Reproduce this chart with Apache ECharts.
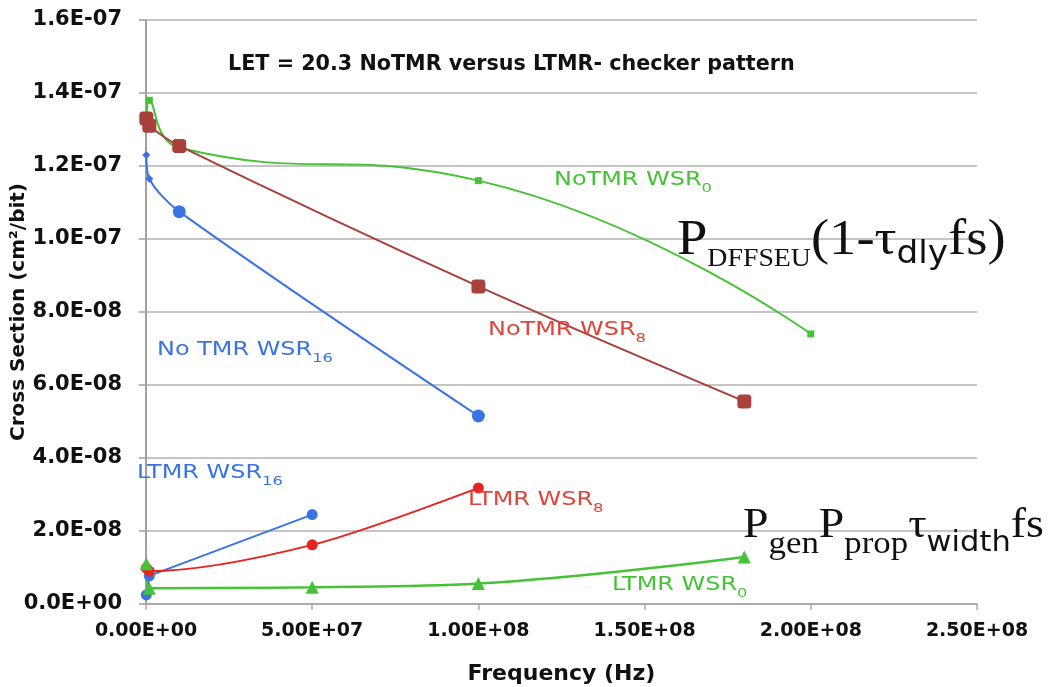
<!DOCTYPE html>
<html>
<head>
<meta charset="utf-8">
<script src="https://cdn.jsdelivr.net/npm/echarts@6/dist/echarts.min.js"></script>
<style>html,body{margin:0;padding:0;background:#fff}#c{width:1049px;height:687px}</style>
</head>
<body>
<div id="c"></div>
<script>
// ---- data (frequency in Hz, cross section in cm^2/bit) ----
const xTicks = [0, 5e7, 1e8, 1.5e8, 2e8, 2.5e8];
const yTicks = [0, 2e-8, 4e-8, 6e-8, 8e-8, 1e-7, 1.2e-7, 1.4e-7, 1.6e-7];
const noTMR_WSR0  = [[1e5, 1.31e-7], [1e6, 1.38e-7], [1e7, 1.25e-7], [1e8, 1.16e-7], [2e8, 7.4e-8]];
const noTMR_WSR8  = [[1e5, 1.33e-7], [1e6, 1.31e-7], [1e7, 1.255e-7], [1e8, 8.7e-8], [1.8e8, 5.55e-8]];
const noTMR_WSR16 = [[1e5, 1.23e-7], [1e6, 1.165e-7], [1e7, 1.075e-7], [1e8, 5.15e-8]];
const LTMR_WSR16  = [[1e5, 2.5e-9], [1e6, 7.7e-9], [5e7, 2.45e-8]];
const LTMR_WSR8   = [[1e5, 9.8e-9], [1e6, 9.0e-9], [5e7, 1.62e-8], [1e8, 3.18e-8]];
const LTMR_WSR0   = [[1e5, 1.1e-8], [1e6, 4.3e-9], [5e7, 4.6e-9], [1e8, 5.6e-9], [1.8e8, 1.29e-8]];
const titleText = 'LET = 20.3 NoTMR versus LTMR- checker pattern';

const GREEN = '#46C236', BROWN = '#A8403B', BLUE = '#3A74E3', RED = '#E8231F', LRED = '#E0443A';

function expFmt(v, d) {
  const s = Number(v).toExponential(d);
  const [m, e] = s.split('e');
  const sign = e[0] === '-' ? '-' : '+';
  const digits = e.replace(/[+-]/, '').padStart(2, '0');
  return m + 'E' + sign + digits;
}

const chart = echarts.init(document.getElementById('c'), null, {renderer: 'canvas'});
const axisFont = {fontFamily: 'DejaVu Sans', fontWeight: 'bold', color: '#111'};

function lbl(x, y, color, main, sub) {
  return {
    type: 'text', x: x, y: y, scaleX: 1.26, z: 100,
    style: {
      text: '{a|' + main + '}{b|' + sub + '}',
      verticalAlign: 'middle', align: 'left',
      rich: {
        a: {fontFamily: 'DejaVu Sans', fontSize: 19, fill: color, height: 26, verticalAlign: 'bottom'},
        b: {fontFamily: 'DejaVu Sans', fontSize: 13, fill: color, height: 8, verticalAlign: 'bottom'}
      }
    }
  };
}

const option = {
  animation: false,
  backgroundColor: '#fff',
  title: {
    text: titleText, left: 223, top: 49,
    textStyle: {fontFamily: 'DejaVu Sans', fontWeight: 'bold', fontSize: 20.7, color: '#111'}
  },
  grid: {left: 146, right: 72, top: 20, bottom: 83, containLabel: false, outerBoundsMode: 'none'},
  xAxis: {
    type: 'value', min: 0, max: 2.5e8, interval: 5e7,
    name: 'Frequency (Hz)', nameLocation: 'middle', nameGap: 59, nameMoveOverlap: false,
    nameTextStyle: Object.assign({fontSize: 22}, axisFont),
    axisLine: {lineStyle: {color: '#aaaaaa', width: 2}},
    axisTick: {show: true, length: 6, lineStyle: {color: '#aaaaaa', width: 1.5}},
    axisLabel: Object.assign({fontSize: 19, margin: 18, formatter: v => expFmt(v, 2)}, axisFont),
    splitLine: {show: false}
  },
  yAxis: {
    type: 'value', min: 0, max: 1.6e-7, interval: 2e-8,
    name: 'Cross Section (cm²/bit)', nameLocation: 'middle', nameGap: 117, nameRotate: 90,
    nameMoveOverlap: false,
    nameTextStyle: Object.assign({fontSize: 20}, axisFont),
    axisLine: {show: true, lineStyle: {color: '#a0a0a0', width: 2}},
    axisTick: {show: true, length: 7, lineStyle: {color: '#a0a0a0', width: 1.5}},
    axisLabel: Object.assign({fontSize: 21, margin: 24, formatter: v => expFmt(v, 1)}, axisFont),
    splitLine: {show: true, lineStyle: {color: '#b2b2b2', width: 1.6}}
  },
  series: [
    {name: 'NoTMR WSR0', type: 'line', data: noTMR_WSR0, smooth: 0.5, symbol: 'rect', symbolSize: 7,
     itemStyle: {color: GREEN}, lineStyle: {color: GREEN, width: 2}},
    {name: 'NoTMR WSR8', type: 'line', data: noTMR_WSR8, smooth: 0.3, symbol: 'roundRect', symbolSize: 14,
     itemStyle: {color: BROWN}, lineStyle: {color: BROWN, width: 2}},
    {name: 'No TMR WSR16', type: 'line', data: noTMR_WSR16, smooth: 0.3,
     symbol: v => v[0] < 5e6 ? 'diamond' : 'circle', symbolSize: v => v[0] < 5e6 ? 8 : 13,
     itemStyle: {color: BLUE}, lineStyle: {color: BLUE, width: 2}},
    {name: 'LTMR WSR16', type: 'line', data: LTMR_WSR16, smooth: false, symbol: 'circle', symbolSize: 11,
     itemStyle: {color: BLUE}, lineStyle: {color: BLUE, width: 2}},
    {name: 'LTMR WSR8', type: 'line', data: LTMR_WSR8, smooth: 0.3, symbol: 'circle', symbolSize: 11,
     itemStyle: {color: RED}, lineStyle: {color: RED, width: 2}},
    {name: 'LTMR WSR0', type: 'line', data: LTMR_WSR0, smooth: 0.4, symbol: 'triangle', symbolSize: 13,
     itemStyle: {color: GREEN}, lineStyle: {color: GREEN, width: 2.5}}
  ],
  graphic: [
    lbl(554, 180, GREEN, 'NoTMR WSR', '0'),
    lbl(488, 330, LRED, 'NoTMR WSR', '8'),
    lbl(157, 350, BLUE, 'No TMR WSR', '16'),
    lbl(137, 473, BLUE, 'LTMR WSR', '16'),
    lbl(468, 500, LRED, 'LTMR WSR', '8'),
    lbl(612, 585, GREEN, 'LTMR WSR', '0'),
    {
      type: 'text', x: 677, y: 269, scaleX: 1.07, z: 100,
      style: {
        text: '{p|P}{s|DFFSEU}{p|(1-τ}{d|dly}{p|fs)}',
        align: 'left', verticalAlign: 'bottom',
        rich: {
          p: {fontFamily: 'Liberation Serif', fontSize: 51, height: 56, verticalAlign: 'bottom', fill: '#111'},
          s: {fontFamily: 'Liberation Serif', fontSize: 26, height: 20, verticalAlign: 'bottom', fill: '#111'},
          d: {fontFamily: 'DejaVu Sans', fontSize: 32, height: 28, verticalAlign: 'bottom', fill: '#111'}
        }
      }
    },
    {
      type: 'text', x: 743, y: 554, scaleX: 1.09, z: 100,
      style: {
        text: '{p|P}{s|gen}{p|P}{s|prop}{p|τ}{d|width}{p|fs}',
        align: 'left', verticalAlign: 'bottom',
        rich: {
          p: {fontFamily: 'Liberation Serif', fontSize: 42, height: 56, verticalAlign: 'bottom', fill: '#111'},
          s: {fontFamily: 'Liberation Serif', fontSize: 32, height: 19, verticalAlign: 'bottom', fill: '#111'},
          d: {fontFamily: 'DejaVu Sans', fontSize: 28, height: 21, verticalAlign: 'bottom', fill: '#111'}
        }
      }
    }
  ]
};
chart.setOption(option);
</script>
</body>
</html>
